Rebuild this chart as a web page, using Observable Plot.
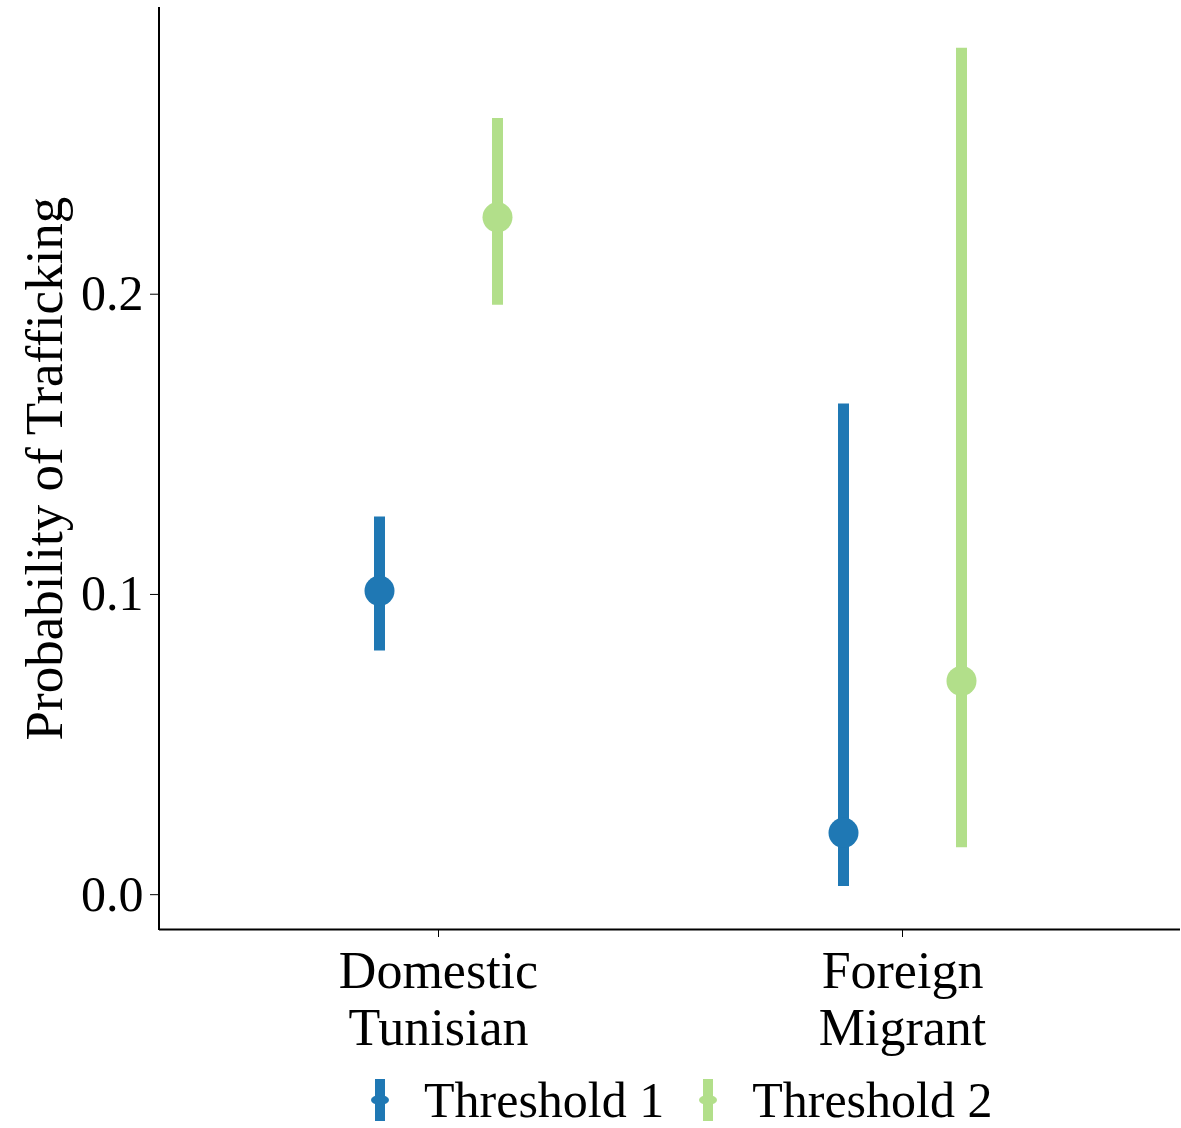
<!DOCTYPE html>
<html>
<head>
<meta charset="utf-8">
<script src="https://cdn.jsdelivr.net/npm/d3@7"></script>
<script src="https://cdn.jsdelivr.net/npm/@observablehq/plot@0.6"></script>
<style>
  html, body { margin: 0; padding: 0; background: #fff; }
  body { width: 1181px; font-family: "Liberation Serif", "Times New Roman", serif; }
  #legend { box-sizing: border-box; display: flex; align-items: center; height: 58px; padding-left: 370px; padding-top: 2px; font-size: 50px; line-height: 46px; color: #000; }
  .item { display: flex; align-items: center; margin-right: 34px; }
  .item svg { margin-right: 34px; }
</style>
</head>
<body>
<div id="chart"></div>
<div id="legend"></div>
<script>
const categories = ["Domestic\nTunisian", "Foreign\nMigrant"];
const thresholds = ["Threshold 1", "Threshold 2"];
const colors = ["#1f78b4", "#b2df8a"];
const estimate1 = [0.1012, 0.0206];
const lower1 = [0.0812, 0.0027];
const upper1 = [0.1258, 0.1634];
const estimate2 = [0.2256, 0.0712];
const lower2 = [0.1963, 0.0156];
const upper2 = [0.2585, 0.2819];
const yTicks = [0, 0.1, 0.2];
const yDomain = [-0.0116, 0.2955];

const rows = [];
categories.forEach((c, i) => {
  rows.push({category: c, threshold: thresholds[0], est: estimate1[i], lo: lower1[i], hi: upper1[i]});
  rows.push({category: c, threshold: thresholds[1], est: estimate2[i], lo: lower2[i], hi: upper2[i]});
});
const t1 = rows.filter(d => d.threshold === thresholds[0]);
const t2 = rows.filter(d => d.threshold === thresholds[1]);
const dodge = 59;

const plot = Plot.plot({
  width: 1181,
  height: 1070,
  marginTop: 7,
  marginLeft: 159,
  marginRight: 1,
  marginBottom: 141,
  style: {fontFamily: "Liberation Serif, Times New Roman, serif", background: "#fff", color: "#000"},
  x: {type: "point", domain: categories, padding: 0.6},
  y: {domain: yDomain},
  color: {domain: thresholds, range: colors},
  marks: [
    Plot.ruleY([yDomain[0]], {stroke: "#000", strokeWidth: 2}),
    Plot.axisY({ticks: yTicks, tickFormat: ".1f", tickSize: 9, tickPadding: 7, fontSize: 50, label: null}),
    Plot.axisY({ticks: [], label: "Probability of Trafficking", labelAnchor: "center", labelArrow: "none",
      labelOffset: 135, fontSize: 53}),
    Plot.axisX({tickSize: 8, tickPadding: 10, fontSize: 52, lineHeight: 1.1, label: null}),
    Plot.ruleX(t1, {x: "category", y1: "lo", y2: "hi", stroke: "threshold", strokeWidth: 11, dx: -dodge}),
    Plot.dot(t1, {x: "category", y: "est", fill: "threshold", r: 15, dx: -dodge}),
    Plot.ruleX(t2, {x: "category", y1: "lo", y2: "hi", stroke: "threshold", strokeWidth: 11, dx: dodge}),
    Plot.dot(t2, {x: "category", y: "est", fill: "threshold", r: 15, dx: dodge})
  ]
});
document.getElementById("chart").appendChild(plot);

// left axis line using the y scale range
const yScale = plot.scale("y");
const svg = d3.select(plot);
svg.append("line")
  .attr("x1", 159).attr("x2", 159)
  .attr("y1", yScale.range[1]).attr("y2", yScale.range[0] + 1)
  .attr("stroke", "#000").attr("stroke-width", 2);

const legend = d3.select("#legend");
thresholds.forEach((t, i) => {
  const item = legend.append("div").attr("class", "item");
  const s = item.append("svg").attr("width", 20).attr("height", 44);
  s.append("line").attr("x1", 10).attr("x2", 10).attr("y1", 1).attr("y2", 43)
    .attr("stroke", colors[i]).attr("stroke-width", 10);
  s.append("ellipse").attr("cx", 10).attr("cy", 22).attr("rx", 9).attr("ry", 5).attr("fill", colors[i]);
  item.append("span").text(t);
});
</script>
</body>
</html>
